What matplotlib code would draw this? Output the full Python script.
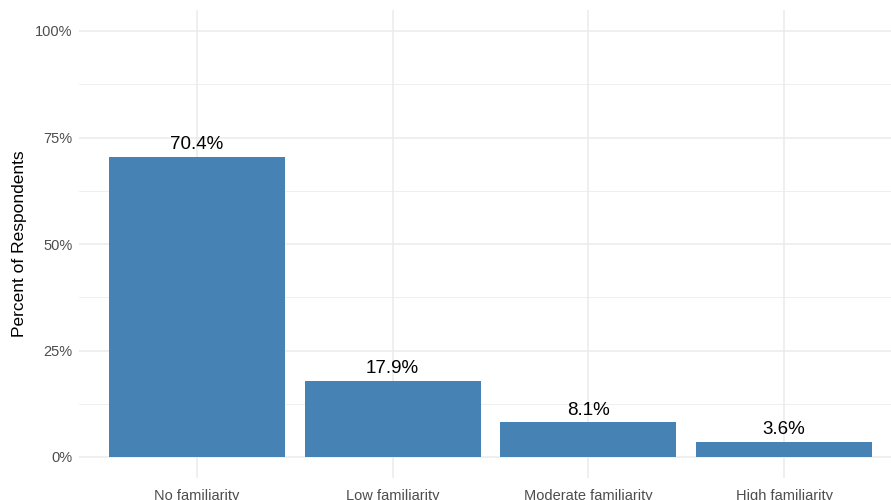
import numpy as np
import matplotlib.pyplot as plt

plt.rcParams['font.family'] = ['Liberation Sans', 'DejaVu Sans']

categories = ["No familiarity", "Low familiarity", "Moderate familiarity", "High familiarity"]
percents = [70.4, 17.9, 8.1, 3.6]
y_ticks = [0, 25, 50, 75, 100]
y_minor = [12.5, 37.5, 62.5, 87.5]

W, H = 891, 500
fig = plt.figure(figsize=(W / 100, H / 100), dpi=100)

# panel runs slightly past the right and bottom edges (cropped ggplot look)
left, right = 79.4, 901.6
top, bottom = 9.7, 478.3
ax = fig.add_axes([left / W, 1 - bottom / H, (right - left) / W, (bottom - top) / H])

x = np.arange(len(categories))
ax.bar(x, percents, width=0.9, color="#4682B4", zorder=3)
for xi, p in zip(x, percents):
    ax.text(xi, p + 0.9, f"{p:.1f}%", ha="center", va="bottom", fontsize=13.5, color="black", zorder=4)

ax.set_xlim(-0.6, len(categories) - 0.4)
ax.set_ylim(-5, 105)
ax.set_yticks(y_ticks)
ax.set_yticklabels([f"{t}%" for t in y_ticks])
ax.set_yticks(y_minor, minor=True)
ax.set_xticks(x)
ax.set_xticklabels(categories)

ax.grid(True, which="major", color="#EBEBEB", linewidth=1.1, zorder=0)
ax.grid(True, which="minor", axis="y", color="#EBEBEB", linewidth=0.55, zorder=0)
for s in ax.spines.values():
    s.set_visible(False)
ax.tick_params(which="both", length=0, colors="#4D4D4D", labelsize=10.5, pad=5)
ax.tick_params(axis="x", pad=8)
ax.set_ylabel("Percent of Respondents", fontsize=12.5, color="black", labelpad=6)

fig.savefig("out.png", dpi=100)
